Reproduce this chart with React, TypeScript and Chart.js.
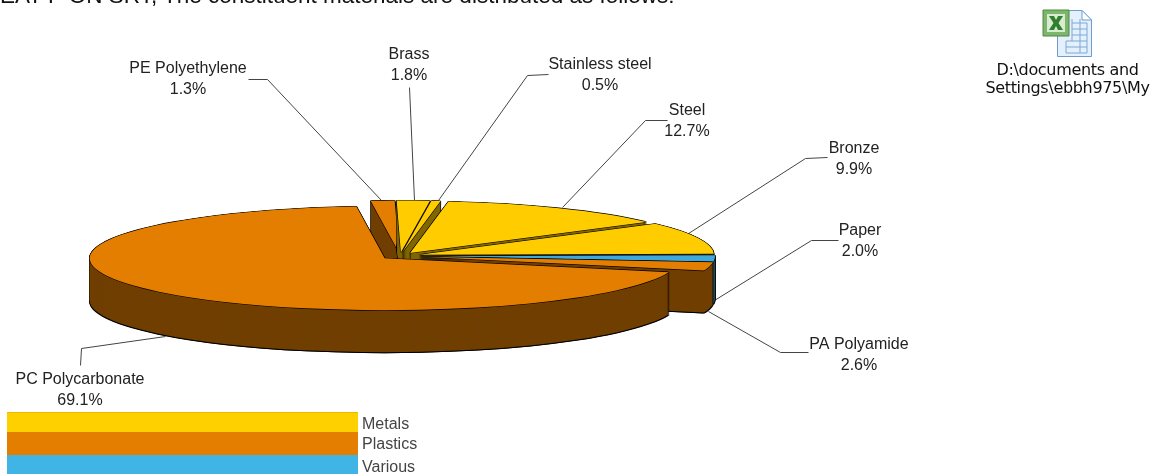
import React, { useEffect, useRef } from "react";
import { Chart, registerables } from "chart.js";

Chart.register(...registerables);

const categories = ["PE Polyethylene", "Brass", "Stainless steel", "Steel", "Bronze", "Paper", "PA Polyamide", "PC Polycarbonate"];
const percentages = [1.3, 1.8, 0.5, 12.7, 9.9, 2.0, 2.6, 69.1];
const materialGroups = [1, 0, 0, 0, 0, 2, 1, 1];
const legendLabels = ["Metals", "Plastics", "Various"];
const groupColors = ["#FFCC00", "#E37E00", "#3FA9DC"];
const groupSideColors = ["#806600", "#703F00", "#1D4C63"];
const legendColors = ["#FFD000", "#E37E00", "#41B4E6"];

// [text anchor x, name baseline y] for each label, and leader-line vertices
const labelAnchors = [[188, 73], [409, 59], [600, 69], [687, 115], [854, 153], [860, 235], [859, 349], [80, 384]];
const leaderLines = [
  [[248, 79], [267, 79], [381, 200]],
  [[409, 87], [414, 200]],
  [[548, 74], [527, 75], [438, 200]],
  [[667, 120], [645, 120], [562, 207]],
  [[827, 157], [805, 158], [685, 235]],
  [[838, 240], [811, 240], [714, 300]],
  [[808, 352], [780, 352], [708, 311]],
  [[80, 365], [81, 348], [165, 336]],
];

const PIE = { cx: 400, cy: 256, radius: 295, squash: 0.176, depth: 42, explode: 20, rotation: -5.5 };

const pie3d = {
  id: "pie3d",
  beforeDatasetsDraw(chart: any) {
    const ctx = chart.ctx as CanvasRenderingContext2D;
    // leader lines sit behind the pie
    ctx.save();
    ctx.strokeStyle = "#444";
    ctx.lineWidth = 1;
    leaderLines.forEach((pts) => {
      ctx.beginPath();
      pts.forEach(([x, y], i) => (i ? ctx.lineTo(x + 0.5, y + 0.5) : ctx.moveTo(x + 0.5, y + 0.5)));
      ctx.stroke();
    });
    ctx.restore();

    const arcs = chart.getDatasetMeta(0).data;
    const drawAt = (arc: any, color: string, dx: number, dy: number) => {
      const mid = (arc.startAngle + arc.endAngle) / 2;
      const saved = arc.options;
      arc.options = { ...saved, backgroundColor: color, borderColor: color, borderWidth: 0, offset: 0 };
      ctx.save();
      ctx.translate(PIE.cx + dx, PIE.cy + dy);
      ctx.scale(1, PIE.squash);
      ctx.translate(Math.cos(mid) * PIE.explode - arc.x, Math.sin(mid) * PIE.explode - arc.y);
      arc.draw(ctx);
      ctx.restore();
      arc.options = saved;
    };
    arcs.forEach((arc: any, i: number) => {
      const g = materialGroups[i];
      for (let dy = PIE.depth + 1; dy >= 0; dy--) {
        drawAt(arc, "#000", -0.7, dy);
        drawAt(arc, "#000", 0.7, dy);
      }
      for (let dy = PIE.depth; dy >= 1; dy--) drawAt(arc, groupSideColors[g], 0, dy);
      drawAt(arc, "#000", 0, -0.6);
      drawAt(arc, "#000", 0, 0.6);
      drawAt(arc, "#000", -0.6, 0);
      drawAt(arc, "#000", 0.6, 0);
      drawAt(arc, groupColors[g], 0, 0);
    });
    return false;
  },
  afterDraw(chart: any) {
    const ctx = chart.ctx as CanvasRenderingContext2D;
    ctx.save();
    ctx.font = '16px "Liberation Sans"';
    ctx.fillStyle = "#222";
    ctx.textAlign = "center";
    ctx.textBaseline = "alphabetic";
    categories.forEach((name, i) => {
      const [x, y] = labelAnchors[i];
      ctx.fillText(name, x, y);
      ctx.fillText(percentages[i].toFixed(1) + "%", x, y + 21);
    });
    // legend
    const tops = [412, 432, 455, 474];
    legendLabels.forEach((label, i) => {
      ctx.fillStyle = legendColors[i];
      ctx.fillRect(7, tops[i], 351, tops[i + 1] - tops[i]);
      ctx.fillStyle = "#444";
      ctx.textAlign = "left";
      ctx.fillText(label, 362, tops[i] + 17);
    });
    ctx.fillStyle = "#EDB800";
    ctx.fillRect(7, 412, 351, 1);
    ctx.restore();
  },
};

function ExcelIcon() {
  return (
    <svg width="52" height="50" viewBox="0 0 52 50" style={{ position: "absolute", left: 1042, top: 9 }}>
      <path d="M15.5 1.5H40L49.5 11V47.5H15.5Z" fill="#E4F0FB" stroke="#6F9CCB" />
      <path d="M40 1.5V11H49.5Z" fill="#fff" stroke="#6F9CCB" />
      <g stroke="#7FA8D4" fill="none">
        <path d="M30 14H45M30 20H45M30 26H45M24 32H45M24 38H45M24 44H45M30 10V32M38 10V44M24 32V44M45 14V44" />
      </g>
      <path d="M1 1H27V27H1Z" fill="#7DB56E" stroke="#4E8A3E" />
      <rect x="5" y="5" width="18" height="18" fill="#D8ECCF" />
      <path d="M7 7H12L14 11L16 7H21L16.5 14L21 21H16L14 17L12 21H7L11.5 14Z" fill="#2F7F2E" />
    </svg>
  );
}

export default function App() {
  const ref = useRef<HTMLCanvasElement>(null);
  useEffect(() => {
    const chart = new Chart(ref.current!, {
      type: "pie",
      data: {
        labels: categories,
        datasets: [{
          data: percentages,
          backgroundColor: materialGroups.map((g) => groupColors[g]),
          borderWidth: 0,
        }],
      },
      options: {
        responsive: false,
        animation: false,
        radius: PIE.radius,
        rotation: PIE.rotation,
        events: [],
        plugins: { legend: { display: false }, tooltip: { enabled: false } },
      } as any,
      plugins: [pie3d],
    });
    return () => chart.destroy();
  }, []);
  return (
    <div style={{ position: "fixed", left: 0, top: 0, width: 1151, height: 474, overflow: "hidden", background: "#fff" }}>
      <canvas ref={ref} width={1151} height={474} style={{ position: "absolute", left: 0, top: 0, width: 1151, height: 474 }} />
      <div style={{ position: "absolute", left: 0, top: -14, whiteSpace: "nowrap", font: '22.5px "Liberation Sans"', lineHeight: "20px", color: "#111" }}>
        EAT P ON SRT, The constituent materials are distributed as follows:
      </div>
      <ExcelIcon />
      <div style={{ position: "absolute", left: 960, width: 215, top: 61, textAlign: "center", whiteSpace: "pre", font: '16px "DejaVu Sans"', lineHeight: "18px", color: "#111", letterSpacing: "-0.33px", paddingRight: 24 }}>
        {"D:\\documents and\nSettings\\ebbh975\\My"}
      </div>
    </div>
  );
}
